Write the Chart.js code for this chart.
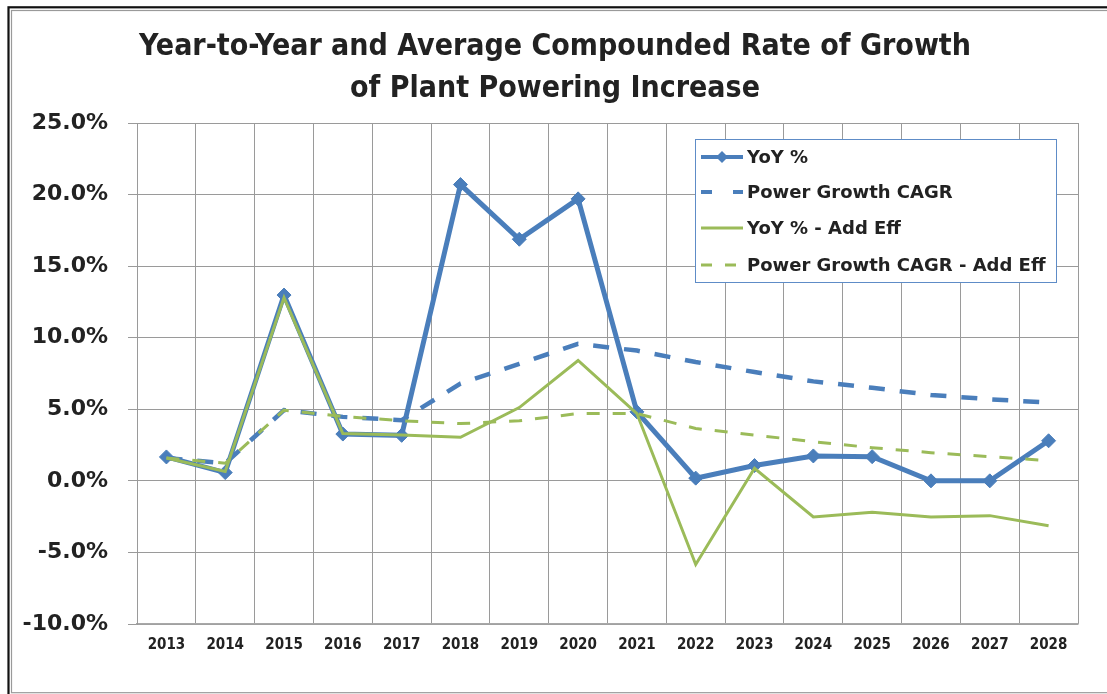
<!DOCTYPE html>
<html>
<head>
<meta charset="utf-8">
<script src="https://cdn.jsdelivr.net/npm/chart.js@4.4.1/dist/chart.umd.min.js"></script>
<style>
html,body{margin:0;padding:0;background:#fff;}
#wrap{width:1107px;height:694px;position:relative;}
canvas{display:block;}
</style>
</head>
<body>
<div id="wrap"><canvas id="c" width="1107" height="694"></canvas></div>
<script>
// ---- data ----
const years = ['2013','2014','2015','2016','2017','2018','2019','2020','2021','2022','2023','2024','2025','2026','2027','2028'];
const yoy        = [1.67, 0.58, 12.98, 3.27, 3.18, 20.70, 16.88, 19.70, 4.82, 0.19, 1.07, 1.74, 1.69, 0.00, 0.00, 2.80];
const powerCagr  = [1.60, 1.23, 4.94, 4.47, 4.24, 6.80, 8.18, 9.57, 9.10, 8.30, 7.60, 6.95, 6.50, 6.00, 5.70, 5.47];
const yoyAddEff  = [1.60, 0.65, 12.80, 3.30, 3.20, 3.04, 5.12, 8.41, 4.70, -5.84, 0.88, -2.52, -2.20, -2.52, -2.43, -3.13];
const cagrAddEff = [1.60, 1.23, 4.94, 4.50, 4.20, 4.00, 4.20, 4.70, 4.70, 3.66, 3.20, 2.73, 2.32, 1.97, 1.69, 1.41];
const seriesNames = ['YoY %', 'Power Growth CAGR', 'YoY % - Add Eff', 'Power Growth CAGR - Add Eff'];
const titleLines = ['Year-to-Year and Average Compounded Rate of Growth', 'of Plant Powering Increase'];
const yMin = -10, yMax = 25, yStep = 5;

const BLUE = '#4A7EBB';
const GREEN = '#9BBB59';
const GRID = '#9a9a9a';
const TEXT = '#222222';

const framePlugin = {
  id: 'frame',
  beforeDraw(chart) {
    const ctx = chart.ctx;
    ctx.save();
    ctx.fillStyle = '#ffffff';
    ctx.fillRect(0, 0, chart.width, chart.height);
    ctx.strokeStyle = '#111111';
    ctx.lineWidth = 2.2;
    ctx.strokeRect(8.5, 7.3, 1200, 800);
    ctx.strokeStyle = '#9a9a9a';
    ctx.lineWidth = 1.2;
    ctx.strokeRect(11.5, 10.5, 1200, 682.2);
    ctx.restore();
  }
};

const titlePlugin = {
  id: 'mtitle',
  afterDraw(chart) {
    const ctx = chart.ctx;
    ctx.save();
    ctx.fillStyle = TEXT;
    ctx.font = 'bold 30px "DejaVu Sans Condensed", "DejaVu Sans", sans-serif';
    ctx.textAlign = 'center';
    ctx.textBaseline = 'alphabetic';
    ctx.fillText(titleLines[0], 555, 55);
    ctx.fillText(titleLines[1], 555, 97);
    ctx.restore();
  }
};

const legendPlugin = {
  id: 'mlegend',
  afterDraw(chart) {
    const ctx = chart.ctx;
    const bx = 695.5, by = 139.5, bw = 361, bh = 143;
    ctx.save();
    ctx.fillStyle = '#ffffff';
    ctx.fillRect(bx, by, bw, bh);
    ctx.strokeStyle = '#5E8CC7';
    ctx.lineWidth = 1;
    ctx.strokeRect(bx, by, bw, bh);
    const rows = [157, 192, 228, 265];
    const x0 = 701, x1 = 743;
    const dashes = [[], [11, 21], [], [11, 13]];
    chart.data.datasets.forEach((ds, i) => {
      const y = rows[i];
      ctx.strokeStyle = ds.borderColor;
      ctx.lineWidth = Math.min(ds.borderWidth, 4);
      ctx.setLineDash(dashes[i]);
      ctx.beginPath();
      ctx.moveTo(x0, y);
      ctx.lineTo(x1, y);
      ctx.stroke();
      ctx.setLineDash([]);
      if (ds.pointRadius > 0) {
        ctx.fillStyle = ds.borderColor;
        ctx.beginPath();
        const r = 6;
        const cx = 722;
        ctx.moveTo(cx, y - r); ctx.lineTo(cx + r, y); ctx.lineTo(cx, y + r); ctx.lineTo(cx - r, y);
        ctx.closePath();
        ctx.fill();
      }
      ctx.fillStyle = TEXT;
      ctx.font = 'bold 18px "DejaVu Sans", sans-serif';
      ctx.textAlign = 'left';
      ctx.textBaseline = 'middle';
      ctx.fillText(ds.label, 747, y + 1);
    });
    ctx.restore();
  }
};

new Chart(document.getElementById('c'), {
  type: 'line',
  data: {
    labels: years,
    datasets: [
      { label: seriesNames[0], data: yoy, borderColor: BLUE, backgroundColor: BLUE, borderWidth: 5,
        pointStyle: 'rectRot', pointRadius: 7, pointBorderWidth: 1, pointBackgroundColor: BLUE, pointBorderColor: BLUE,
        tension: 0, order: 3 },
      { label: seriesNames[1], data: powerCagr, borderColor: BLUE, backgroundColor: BLUE, borderWidth: 4.5,
        borderDash: [16, 15], pointRadius: 0, tension: 0, order: 2 },
      { label: seriesNames[2], data: yoyAddEff, borderColor: GREEN, backgroundColor: GREEN, borderWidth: 3,
        pointRadius: 0, tension: 0, order: 1 },
      { label: seriesNames[3], data: cagrAddEff, borderColor: GREEN, backgroundColor: GREEN, borderWidth: 3,
        borderDash: [13, 13], pointRadius: 0, tension: 0, order: 0 }
    ]
  },
  options: {
    responsive: false,
    devicePixelRatio: 1,
    animation: false,
    layout: { padding: { top: 123, left: 0, right: 29, bottom: 0 } },
    plugins: { legend: { display: false }, title: { display: false }, tooltip: { enabled: false } },
    scales: {
      x: {
        type: 'category',
        offset: true,
        grid: { offset: true, color: GRID, lineWidth: 1, drawTicks: false },
        border: { display: true, color: '#a8a8a8', width: 1.5 },
        ticks: { color: TEXT, padding: 12, maxRotation: 0, autoSkip: false,
                 font: { family: '"DejaVu Sans Condensed", "DejaVu Sans", sans-serif', weight: 'bold', size: 15 } },
        afterFit(scale) { scale.height = 70; }
      },
      y: {
        min: yMin, max: yMax,
        grid: { color: GRID, lineWidth: 1, drawTicks: true, tickLength: 9 },
        border: { display: true, color: GRID, width: 1 },
        ticks: { stepSize: yStep, color: TEXT, padding: 20,
                 font: { family: '"DejaVu Sans", sans-serif', weight: 'bold', size: 22 },
                 callback: (v) => Number(v).toFixed(1) + '%' },
        afterFit(scale) { scale.width = 137; }
      }
    }
  },
  plugins: [framePlugin, titlePlugin, legendPlugin]
});
</script>
</body>
</html>
